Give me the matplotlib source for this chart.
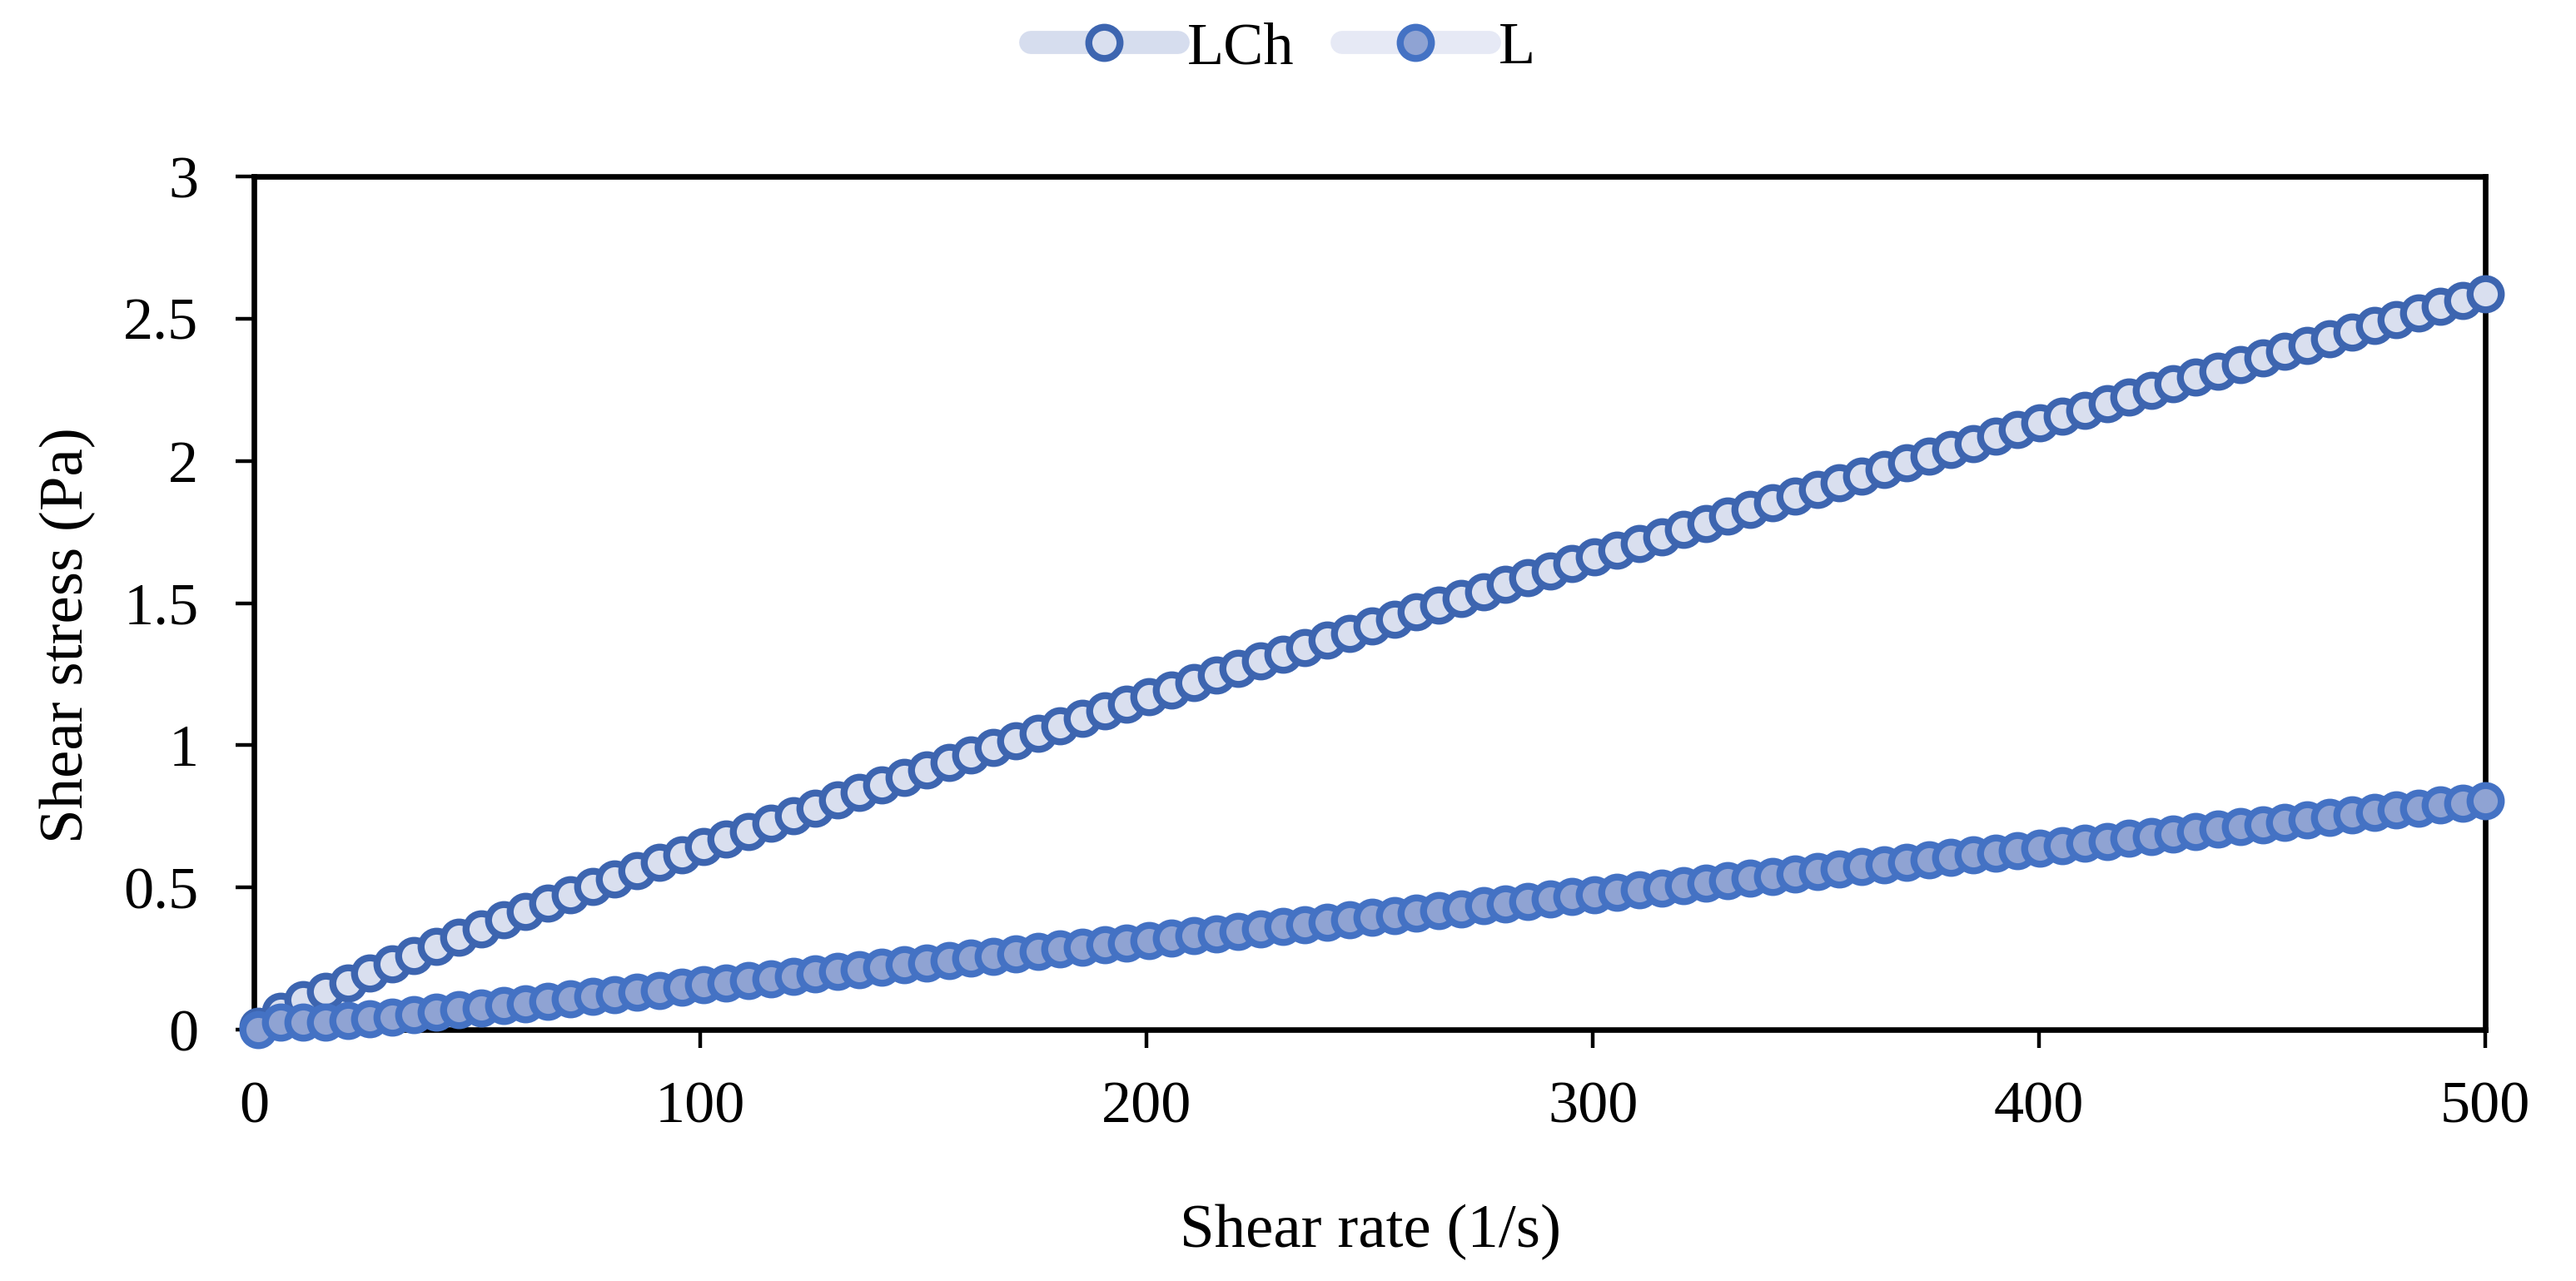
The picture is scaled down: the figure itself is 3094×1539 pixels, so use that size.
import matplotlib
matplotlib.use("Agg")
import matplotlib.pyplot as plt

plt.rcParams['font.family'] = ['Liberation Serif', 'DejaVu Serif']

# shear rate (1/s)
shear_rate = [1.0, 6.0, 11.0, 16.0, 21.0, 26.0, 30.9, 35.9, 40.9, 45.9,
              50.9, 55.9, 60.9, 65.9, 70.9, 75.9, 80.8, 85.8, 90.8, 95.8,
              100.8, 105.8, 110.8, 115.8, 120.8, 125.8, 130.7, 135.7, 140.7, 145.7,
              150.7, 155.7, 160.7, 165.7, 170.7, 175.7, 180.6, 185.6, 190.6, 195.6,
              200.6, 205.6, 210.6, 215.6, 220.6, 225.6, 230.5, 235.5, 240.5, 245.5,
              250.5, 255.5, 260.5, 265.5, 270.5, 275.5, 280.4, 285.4, 290.4, 295.4,
              300.4, 305.4, 310.4, 315.4, 320.4, 325.4, 330.3, 335.3, 340.3, 345.3,
              350.3, 355.3, 360.3, 365.3, 370.3, 375.3, 380.2, 385.2, 390.2, 395.2,
              400.2, 405.2, 410.2, 415.2, 420.2, 425.2, 430.1, 435.1, 440.1, 445.1,
              450.1, 455.1, 460.1, 465.1, 470.1, 475.1, 480.0, 485.0, 490.0, 495.0,
              500.0]

# shear stress (Pa)
stress_lch = [0.012, 0.065, 0.105, 0.135, 0.165, 0.198, 0.230, 0.262, 0.294, 0.325,
              0.355, 0.386, 0.415, 0.445, 0.474, 0.503, 0.531, 0.559, 0.588, 0.615,
              0.643, 0.671, 0.698, 0.726, 0.753, 0.780, 0.807, 0.834, 0.860, 0.887,
              0.913, 0.939, 0.965, 0.991, 1.017, 1.043, 1.069, 1.094, 1.120, 1.145,
              1.170, 1.195, 1.220, 1.246, 1.271, 1.296, 1.320, 1.345, 1.370, 1.394,
              1.419, 1.443, 1.468, 1.492, 1.517, 1.541, 1.565, 1.589, 1.614, 1.638,
              1.662, 1.686, 1.710, 1.734, 1.758, 1.781, 1.805, 1.829, 1.852, 1.876,
              1.899, 1.922, 1.946, 1.969, 1.993, 2.016, 2.039, 2.062, 2.086, 2.109,
              2.133, 2.156, 2.179, 2.202, 2.225, 2.248, 2.271, 2.294, 2.316, 2.339,
              2.362, 2.385, 2.407, 2.430, 2.453, 2.475, 2.498, 2.520, 2.543, 2.565,
              2.587]

stress_l = [0.000, 0.026, 0.026, 0.027, 0.031, 0.039, 0.045, 0.054, 0.061, 0.069,
            0.076, 0.085, 0.091, 0.100, 0.108, 0.118, 0.124, 0.133, 0.139, 0.148,
            0.157, 0.165, 0.173, 0.180, 0.188, 0.196, 0.204, 0.212, 0.220, 0.227,
            0.235, 0.243, 0.251, 0.259, 0.267, 0.275, 0.283, 0.291, 0.299, 0.306,
            0.314, 0.322, 0.330, 0.338, 0.346, 0.354, 0.362, 0.370, 0.378, 0.386,
            0.394, 0.402, 0.410, 0.418, 0.426, 0.435, 0.443, 0.451, 0.459, 0.467,
            0.475, 0.483, 0.491, 0.499, 0.507, 0.516, 0.524, 0.532, 0.540, 0.548,
            0.556, 0.564, 0.573, 0.581, 0.589, 0.597, 0.606, 0.614, 0.622, 0.630,
            0.638, 0.647, 0.655, 0.663, 0.672, 0.680, 0.688, 0.697, 0.705, 0.713,
            0.721, 0.730, 0.738, 0.747, 0.755, 0.763, 0.772, 0.780, 0.789, 0.797,
            0.805]

x_ticks = [0, 100, 200, 300, 400, 500]
y_ticks = [0, 0.5, 1, 1.5, 2, 2.5, 3]
y_tick_labels = ['0', '0.5', '1', '1.5', '2', '2.5', '3']

fig = plt.figure(figsize=(15.47, 7.695), dpi=200)
ax = fig.add_axes([0.0986, 0.1962, 0.8662, 0.666])

ax.plot(shear_rate, stress_lch, color='#D6DDEE', lw=10, solid_capstyle='round',
        marker='o', ms=13.5, mew=3.0, mfc='#D9DFEF', mec='#3D65B0',
        label='LCh', zorder=3, clip_on=False)
ax.plot(shear_rate, stress_l, color='#E6E9F5', lw=10, solid_capstyle='round',
        marker='o', ms=13.5, mew=3.0, mfc='#8FA3D3', mec='#4472C4',
        label='L', zorder=4, clip_on=False)

ax.set_xlim(0, 500)
ax.set_ylim(0, 3)
ax.set_xticks(x_ticks)
ax.set_yticks(y_ticks)
ax.set_yticklabels(y_tick_labels)

for s in ax.spines.values():
    s.set_linewidth(2.4)
    s.set_color('black')
ax.tick_params(axis='both', which='major', direction='out', length=8, width=1.6,
               labelsize=26, colors='black')
ax.tick_params(axis='x', pad=14)
ax.tick_params(axis='y', pad=16)

ax.set_xlabel('Shear rate (1/s)', fontsize=27)
ax.set_ylabel('Shear stress (Pa)', fontsize=27)
ax.xaxis.set_label_coords(0.5005, -0.205)
ax.yaxis.set_label_coords(-0.071, 0.4625)

fig.legend(loc='center', bbox_to_anchor=(0.498, 0.962), ncol=2, frameon=False,
           fontsize=26, handlelength=2.45, handletextpad=0.15, columnspacing=0.8)

fig.savefig('out.png', dpi=200)
